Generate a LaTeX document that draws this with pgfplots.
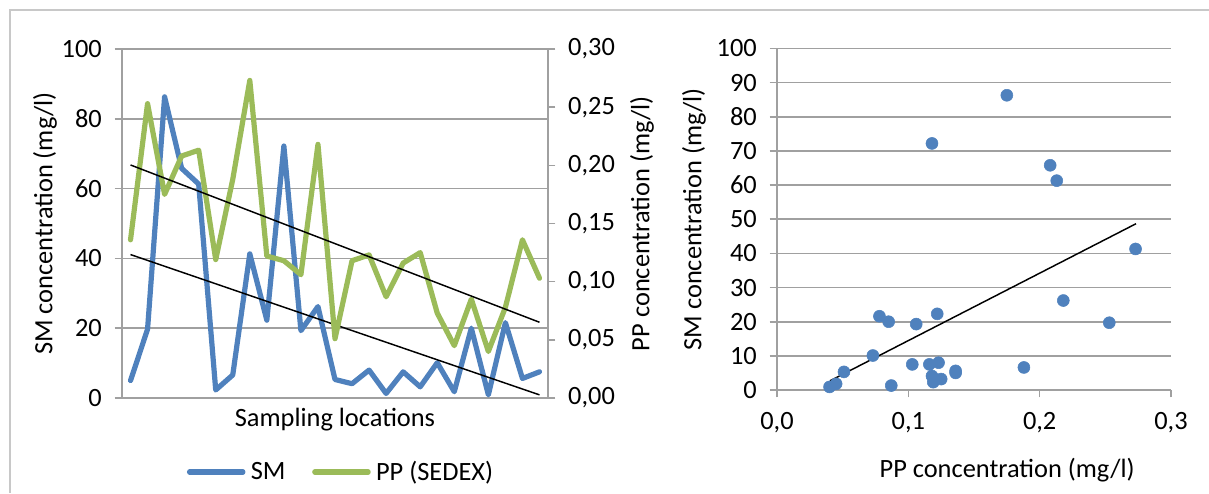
\documentclass[border=0pt]{standalone}
\usepackage{pgfplots}
\pgfplotsset{compat=1.18}
\usepackage{pgfplotstable}
\usepackage{fontspec}
\setmainfont{Carlito}

\definecolor{smblue}{HTML}{4F81BD}
\definecolor{ppgreen}{HTML}{9BBB59}
\definecolor{gridgray}{HTML}{A0A0A0}
\definecolor{framegray}{HTML}{C8C8C8}

% sampling location index, SM (mg/l), PP (mg/l)
\pgfplotstableread{
loc SM   PP
0   5.0  0.136
1   19.7 0.253
2   86.3 0.175
3   65.8 0.208
4   61.3 0.213
5   2.3  0.119
6   6.6  0.188
7   41.3 0.273
8   22.3 0.122
9   72.2 0.118
10  19.3 0.106
11  26.2 0.218
12  5.3  0.051
13  4.1  0.118
14  8.0  0.123
15  1.3  0.087
16  7.5  0.116
17  3.2  0.125
18  10.1 0.073
19  1.8  0.045
20  20.0 0.085
21  0.9  0.040
22  21.6 0.078
23  5.6  0.136
24  7.5  0.103
}\samples

\pgfplotsset{
  base/.style={
    scale only axis,
    anchor=south west,
    axis line style={gridgray, line width=1.2pt},
    grid style={gridgray, line width=1.2pt},
    tick style={gridgray, line width=1.2pt},
    tick align=outside,
    major tick length=5.6pt,
    /pgf/number format/assume math mode=true,
    /pgf/number format/use comma,
    tick label style={font=\fontsize{19.8}{23}\selectfont},
    label style={font=\fontsize{19.8}{23}\selectfont},
    clip=false,
  },
}

\begin{document}
\begin{tikzpicture}[font=\fontsize{19.8}{23}\selectfont]
\path[use as bounding box] (0pt,0pt) rectangle (906.75pt,369.75pt);
\draw[framegray, line width=0.8pt] (7.5pt,0pt) -- (7.5pt,362.25pt) -- (906.75pt,362.25pt);

% ---- left panel: SM along the sampling locations
\begin{axis}[base,
  at={(91.5pt,71.25pt)}, width=319.5pt, height=261.75pt,
  xmin=-0.5, xmax=24.5, ymin=0, ymax=100,
  axis x line*=bottom, axis y line*=left,
  xtick=\empty, ytick={0,20,40,60,80,100},
  ymajorgrids,
  yticklabel style={xshift=-6pt},
  xlabel={Sampling locations},
  xlabel style={at={(axis description cs:0.5,-0.062)}, anchor=center},
  ylabel={SM concentration (mg/l)},
  ylabel style={at={(axis description cs:-0.181,0.5)}, anchor=center},
]
\addplot[smblue, line width=3.9pt, line join=round, line cap=round]
  table[x=loc, y=SM] {\samples};
\addplot[black, line width=1.1pt] coordinates {(0,41.1) (24,0.9)};
\end{axis}

% ---- left panel: PP on the secondary axis
\begin{axis}[base,
  at={(91.5pt,71.25pt)}, width=319.5pt, height=261.75pt,
  xmin=-0.5, xmax=24.5, ymin=0, ymax=0.3,
  axis x line=none, axis y line*=right,
  ytick={0,0.05,0.1,0.15,0.2,0.25,0.3},
  yticklabel style={xshift=6pt, /pgf/number format/.cd, fixed, fixed zerofill, precision=2, use comma},
  ylabel={PP concentration (mg/l)},
  ylabel style={at={(axis description cs:1.2207,0.5)}, anchor=center, rotate=0},
  legend columns=2,
  legend style={draw=none, fill=none, at={(axis description cs:0.515,-0.212)}, anchor=center,
    inner sep=0pt, font=\fontsize{19.8}{23}\selectfont,
    /tikz/every odd column/.append style={column sep=2pt},
    /tikz/every even column/.append style={column sep=18pt}},
  legend image code/.code={\draw[#1, line cap=round] (0pt,0pt) -- (40pt,0pt);},
]
\addlegendimage{smblue, line width=3.9pt}
\addlegendentry{SM}
\addplot[ppgreen, line width=3.9pt, line join=round, line cap=round]
  table[x=loc, y=PP] {\samples};
\addlegendentry{PP (SEDEX)}
\addplot[black, line width=1.1pt, forget plot] coordinates {(0,0.2003) (24,0.0651)};
\end{axis}

% ---- right panel: SM against PP
\begin{axis}[base,
  at={(582.75pt,77.25pt)}, width=295.5pt, height=256.125pt,
  xmin=0, xmax=0.3, ymin=0, ymax=100,
  axis x line*=bottom, axis y line*=left,
  xtick={0,0.1,0.2,0.3}, ytick={0,10,...,100},
  ymajorgrids,
  xticklabel style={yshift=-8pt, /pgf/number format/.cd, fixed, fixed zerofill, precision=1, use comma},
  yticklabel style={xshift=-6pt},
  xlabel={PP concentration (mg/l)},
  xlabel style={at={(axis description cs:0.584,-0.234)}, anchor=center},
  ylabel={SM concentration (mg/l)},
  ylabel style={at={(axis description cs:-0.2107,0.5)}, anchor=center},
]
\addplot[only marks, mark=*, mark size=4.5pt, smblue, mark options={draw=smblue, fill=smblue}]
  table[x=PP, y=SM] {\samples};
\addplot[black, line width=1.1pt] coordinates {(0.0404,2.7) (0.2734,48.7)};
\end{axis}
\end{tikzpicture}
\end{document}
